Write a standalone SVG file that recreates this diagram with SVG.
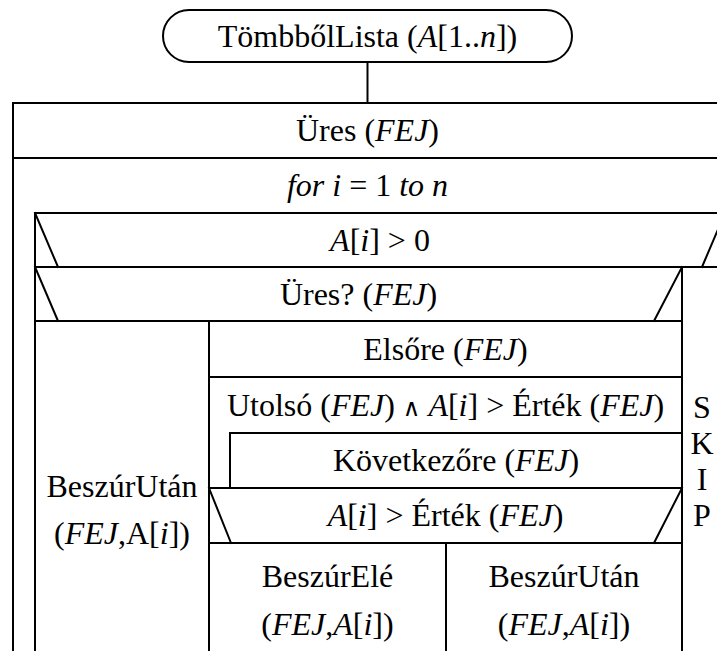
<svg xmlns="http://www.w3.org/2000/svg" width="717" height="651" viewBox="0 0 717 651">
<style>
.ln{stroke:#000;stroke-width:2;fill:none;stroke-linecap:square}
.t{font-family:"Liberation Serif","Times New Roman",serif;font-size:32px;fill:#000;text-anchor:middle}
.i{font-style:italic}
.and{font-family:"DejaVu Serif",serif;font-size:24px}
</style>
<rect width="717" height="651" fill="#fff"/>
<g id="start">
<rect class="ln" x="163" y="10" width="409" height="52" rx="26" ry="26"/>
<text class="t" x="367.5" y="47">TömbbőlLista (<tspan class="i">A</tspan>[1..<tspan class="i">n</tspan>])</text>
</g>
<g id="connectors">
<line class="ln" x1="367.5" y1="62" x2="367.5" y2="103"/>
</g>
<g id="ures">
<path class="ln" d="M13,651 V103 H730 M13,158 H730"/>
<text class="t" x="367.5" y="141">Üres (<tspan class="i">FEJ</tspan>)</text>
</g>
<g id="for">
<text class="t" x="367.5" y="196"><tspan class="i">for i</tspan> = 1 <tspan class="i">to n</tspan></text>
<path class="ln" d="M35,213 H730 M35,213 V651"/>
</g>
<g id="cond-a">
<path class="ln" d="M35,213 L58,267 M725,213 L702,267 M35,267 H730"/>
<text class="t" x="380" y="251"><tspan class="i">A</tspan>[<tspan class="i">i</tspan>] &gt; 0</text>
</g>
<g id="cond-ures">
<path class="ln" d="M35,267 L58,321 M682,267 L654,321 M35,321 H682 M682,267 V651"/>
<text class="t" x="358.5" y="305">Üres? (<tspan class="i">FEJ</tspan>)</text>
</g>
<g id="beszur-utan-1">
<path class="ln" d="M209,321 V651"/>
<text class="t" x="122" y="497">BeszúrUtán</text>
<text class="t" x="122" y="544">(<tspan class="i">FEJ</tspan>,A[<tspan class="i">i</tspan>])</text>
</g>
<g id="elsore">
<path class="ln" d="M209,377 H682"/>
<text class="t" x="445.5" y="360">Elsőre (<tspan class="i">FEJ</tspan>)</text>
</g>
<g id="while">
<path class="ln" d="M230,433 H682 M230,433 V488"/>
<text class="t" x="445.5" y="416">Utolsó (<tspan class="i">FEJ</tspan>) <tspan class="and">∧</tspan> <tspan class="i">A</tspan>[<tspan class="i">i</tspan>] &gt; Érték (<tspan class="i">FEJ</tspan>)</text>
</g>
<g id="kovetkezore">
<path class="ln" d="M209,488 H682"/>
<text class="t" x="456" y="471">Következőre (<tspan class="i">FEJ</tspan>)</text>
</g>
<g id="cond-ertek">
<path class="ln" d="M209,488 L231,543 M682,488 L654,543 M209,543 H682 M446,543 V651"/>
<text class="t" x="445.5" y="526"><tspan class="i">A</tspan>[<tspan class="i">i</tspan>] &gt; Érték (<tspan class="i">FEJ</tspan>)</text>
</g>
<g id="beszur-ele">
<text class="t" x="327.5" y="587">BeszúrElé</text>
<text class="t" x="327.5" y="635">(<tspan class="i">FEJ</tspan>,<tspan class="i">A</tspan>[<tspan class="i">i</tspan>])</text>
</g>
<g id="beszur-utan-2">
<text class="t" x="564" y="587">BeszúrUtán</text>
<text class="t" x="564" y="635">(<tspan class="i">FEJ</tspan>,<tspan class="i">A</tspan>[<tspan class="i">i</tspan>])</text>
</g>
<g id="skip">
<text class="t" x="702" y="418">S</text>
<text class="t" x="702" y="454">K</text>
<text class="t" x="702" y="490">I</text>
<text class="t" x="702" y="526">P</text>
</g>
</svg>
